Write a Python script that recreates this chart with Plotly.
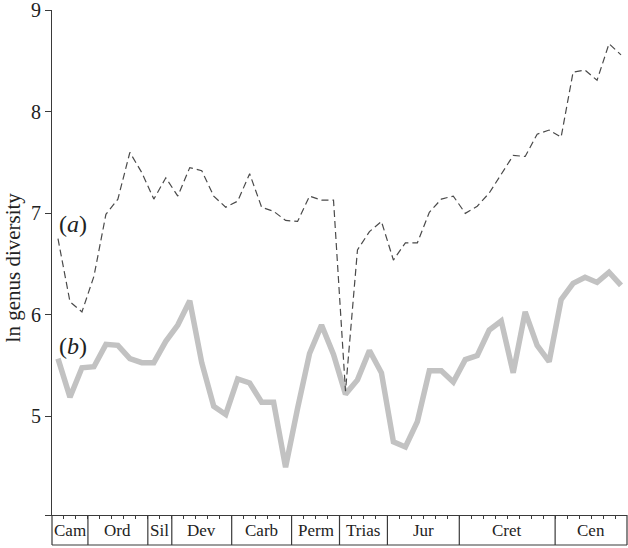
import plotly.graph_objects as go

# bins (one per data point), 48 intervals
series_a = [6.75, 6.13, 6.03, 6.38, 6.99, 7.14, 7.60, 7.40, 7.14, 7.35, 7.17, 7.45,
            7.42, 7.17, 7.06, 7.12, 7.39, 7.06, 7.02, 6.93, 6.92, 7.17, 7.13, 7.13,
            5.25, 6.64, 6.82, 6.92, 6.54, 6.71, 6.71, 7.01, 7.14, 7.17, 7.00, 7.07,
            7.20, 7.38, 7.57, 7.56, 7.78, 7.82, 7.75, 8.39, 8.41, 8.31, 8.67, 8.56]
series_b = [5.57, 5.19, 5.48, 5.49, 5.71, 5.70, 5.57, 5.53, 5.53, 5.74, 5.90, 6.14,
            5.53, 5.10, 5.02, 5.37, 5.33, 5.14, 5.14, 4.50, 5.08, 5.62, 5.90, 5.61,
            5.22, 5.36, 5.65, 5.43, 4.75, 4.70, 4.95, 5.45, 5.45, 5.34, 5.56, 5.60,
            5.85, 5.94, 5.43, 6.03, 5.70, 5.54, 6.15, 6.31, 6.37, 6.32, 6.42, 6.29]
periods = ["Cam", "Ord", "Sil", "Dev", "Carb", "Perm", "Trias", "Jur", "Cret", "Cen"]
period_bins = [3, 5, 2, 5, 5, 4, 4, 6, 8, 6]
y_ticks = [4.03, 5, 6, 7, 8, 9]
y_ticktext = ["", "5", "6", "7", "8", "9"]

n = len(series_a)
xs = [i + 0.5 for i in range(n)]

FONT = "Liberation Serif"
AX = "#3a3a3a"

fig = go.Figure()
fig.add_trace(go.Scatter(x=xs, y=series_b, mode="lines",
                         line=dict(color="#c2c2c2", width=5.5), hoverinfo="skip"))
fig.add_trace(go.Scatter(x=xs, y=series_a, mode="lines",
                         line=dict(color="#4a4a4a", width=1.2, dash="7px,4px"), hoverinfo="skip"))

box_h = 30 / 505
shapes = []
annotations = []
# label box
shapes.append(dict(type="line", xref="paper", yref="paper", x0=0, x1=1, y0=-box_h, y1=-box_h,
                   line=dict(color=AX, width=1.2)))
shapes.append(dict(type="line", xref="paper", yref="paper", x0=1, x1=1, y0=0, y1=-box_h,
                   line=dict(color=AX, width=1.2)))
shapes.append(dict(type="line", xref="paper", yref="paper", x0=0, x1=0, y0=0, y1=-box_h,
                   line=dict(color=AX, width=1.2)))
start = 0
for name, w in zip(periods, period_bins):
    end = start + w
    if end < n:
        shapes.append(dict(type="line", xref="paper", yref="paper", x0=end / n, x1=end / n,
                           y0=0, y1=-box_h, line=dict(color=AX, width=1.2)))
    annotations.append(dict(text=name, xref="paper", yref="paper", x=(start + end) / 2 / n,
                            y=-box_h / 2, showarrow=False, xanchor="center", yanchor="middle",
                            font=dict(family=FONT, size=17, color="#222")))
    start = end

annotations.append(dict(text="(<i>a</i>)", xref="x", yref="y", x=0.38, y=6.9, showarrow=False,
                        xanchor="left", yanchor="middle", font=dict(family=FONT, size=24, color="#222")))
annotations.append(dict(text="(<i>b</i>)", xref="x", yref="y", x=0.38, y=5.69, showarrow=False,
                        xanchor="left", yanchor="middle", font=dict(family=FONT, size=24, color="#222")))
annotations.append(dict(text="ln genus diversity", xref="paper", yref="paper", x=-0.068, y=0.49,
                        textangle=-90, showarrow=False, xanchor="center", yanchor="middle",
                        font=dict(family=FONT, size=21, color="#222")))

fig.update_layout(
    width=628, height=548,
    margin=dict(l=52, r=1, t=10, b=33),
    plot_bgcolor="white", paper_bgcolor="white",
    showlegend=False,
    shapes=shapes, annotations=annotations,
    xaxis=dict(range=[0, n], showgrid=False, zeroline=False, showline=True, linecolor=AX, linewidth=1.2,
               tickvals=list(range(1, n)), ticks="outside", ticklen=3, tickcolor=AX, tickwidth=1,
               showticklabels=False, fixedrange=True, automargin=False),
    yaxis=dict(range=[4.03, 9.002], showgrid=False, zeroline=False, showline=True, linecolor=AX, linewidth=1.2,
               tickvals=y_ticks, ticktext=y_ticktext, ticks="outside", ticklen=6, tickcolor=AX,
               tickfont=dict(family=FONT, size=20, color="#222"), fixedrange=True, automargin=False,
               ticklabeloverflow="allow"),
)

fig.write_html("out.html", config={"displayModeBar": False},
               post_script="document.body.style.margin='0';document.body.style.overflow='hidden';")
